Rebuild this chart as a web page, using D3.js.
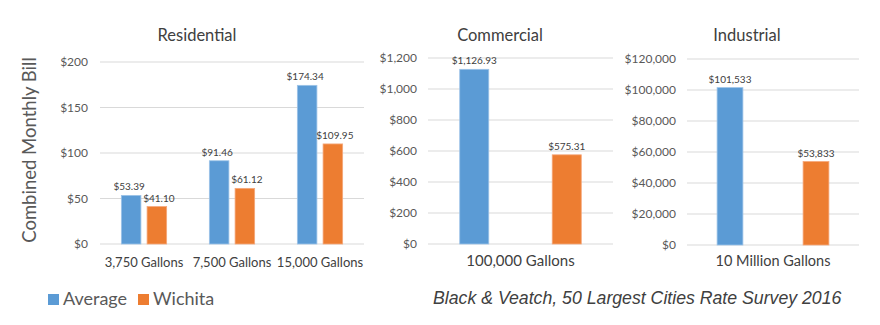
<!DOCTYPE html>
<html><head><meta charset="utf-8">
<script src="https://cdn.jsdelivr.net/npm/d3@7"></script>
<style>body{margin:0;background:#fff}svg{display:block}text{font-family:Lato,"Open Sans",sans-serif}</style>
</head><body><svg id="c" width="880" height="325"></svg>
<script>
const series = ["Average", "Wichita"];
const colors = ["#5B9BD5", "#ED7D31"];
const resCategories = ["3,750 Gallons", "7,500 Gallons", "15,000 Gallons"];
const resAverage = [53.39, 91.46, 174.34];
const resWichita = [41.10, 61.12, 109.95];
const resTicks = [0, 50, 100, 150, 200];
const comCategories = ["100,000 Gallons"];
const comAverage = [1126.93];
const comWichita = [575.31];
const comTicks = [0, 200, 400, 600, 800, 1000, 1200];
const indCategories = ["10 Million Gallons"];
const indAverage = [101533];
const indWichita = [53833];
const indTicks = [0, 20000, 40000, 60000, 80000, 100000, 120000];

const svg = d3.select("#c");

function panel(o) {
  const g = svg.append("g");
  const x0 = d3.scaleBand().domain(o.cats).range([o.x0, o.x1]);
  const x1 = d3.scaleBand().domain(series).range([0, x0.bandwidth()])
    .paddingInner(o.pi).paddingOuter(o.po);
  const y = d3.scaleLinear().domain([0, d3.max(o.ticks)]).range([o.yb, o.yt]);
  g.append("g").selectAll("line").data(o.ticks).join("line")
    .attr("x1", o.x0).attr("x2", o.x1)
    .attr("y1", d => y(d)).attr("y2", d => y(d))
    .attr("stroke", "#d9d9d9").attr("stroke-width", 1);
  const ax = g.append("g").attr("transform", `translate(${o.labX},0)`)
    .call(d3.axisLeft(y).tickValues(o.ticks).tickSize(0).tickPadding(0).tickFormat(o.fmt));
  ax.select(".domain").remove();
  ax.selectAll("text").attr("fill", "#595959").style("font-size", "12px").style("font-family", "Lato,'Open Sans',sans-serif");
  const rows = o.cats.map((c, i) => ({c, vals: [o.avg[i], o.wic[i]]}));
  const grp = g.append("g").selectAll("g").data(rows).join("g")
    .attr("transform", d => `translate(${x0(d.c)},0)`);
  grp.selectAll("rect").data(d => d.vals.map((v, k) => ({s: series[k], v, k})))
    .join("rect")
    .attr("x", d => x1(d.s)).attr("width", x1.bandwidth())
    .attr("y", d => y(d.v)).attr("height", d => y(0) - y(d.v))
    .attr("fill", d => colors[d.k])
    .attr("stroke", d => d.k ? "#f5a77a" : "#9cc3e8").attr("stroke-width", 0.8);
  grp.selectAll("text.v").data(d => d.vals.map((v, k) => ({s: series[k], v, k})))
    .join("text").attr("class", "v")
    .attr("x", d => x1(d.s) + x1.bandwidth() / 2 + (o.lblShift ? o.lblShift[d.k] : 0))
    .attr("y", d => y(d.v) - 5)
    .attr("text-anchor", "middle").attr("fill", "#404040")
    .style("font-size", "10px").text(d => o.vfmt(d.v));
  g.append("g").selectAll("text").data(o.cats).join("text")
    .attr("x", d => x0(d) + x0.bandwidth() / 2).attr("y", o.catY)
    .attr("text-anchor", "middle").attr("fill", "#404040")
    .style("font-size", o.catSize + "px").text(d => d);
  g.append("text").attr("x", o.titleX).attr("y", 41).attr("text-anchor", "middle")
    .attr("fill", "#404040").style("font-size", "16.5px").text(o.title);
}

const f2 = d3.format("$,.2f");
panel({title: "Residential", titleX: 197, cats: resCategories, avg: resAverage, wic: resWichita,
  ticks: resTicks, x0: 100, x1: 364, yt: 62, yb: 244, labX: 88, pi: 0.24, po: 0.83,
  fmt: d3.format("$,.0f"), vfmt: f2, catY: 267, catSize: 13, lblShift: [-2, 2]});
panel({title: "Commercial", titleX: 500, cats: comCategories, avg: comAverage, wic: comWichita,
  ticks: comTicks, x0: 428, x1: 613, yt: 58, yb: 244, labX: 417, pi: 0.686, po: 0.343,
  fmt: d3.format("$,.0f"), vfmt: f2, catY: 266, catSize: 15});
panel({title: "Industrial", titleX: 747, cats: indCategories, avg: indAverage, wic: indWichita,
  ticks: indTicks, x0: 687, x1: 859, yt: 59, yb: 245, labX: 676, pi: 0.70, po: 0.35,
  fmt: d3.format("$,.0f"), vfmt: d3.format("$,.0f"), catY: 266, catSize: 14.5});

svg.append("text").attr("transform", "translate(36,150) rotate(-90)")
  .attr("text-anchor", "middle").attr("fill", "#595959").style("font-size", "18.5px")
  .text("Combined Monthly Bill");

const leg = svg.append("g");
const legX = [48, 138];
series.forEach((s, i) => {
  leg.append("rect").attr("x", legX[i]).attr("y", 294).attr("width", 11).attr("height", 11).attr("fill", colors[i]);
  leg.append("text").attr("x", legX[i] + 15).attr("y", 305).attr("fill", "#595959")
    .style("font-size", "18px").text(s);
});

svg.append("text").attr("x", 433).attr("y", 304).attr("fill", "#404040")
  .style("font-size", "17.7px").style("font-style", "italic")
  .style("font-family", "'Liberation Sans',Arial,sans-serif")
  .text("Black & Veatch, 50 Largest Cities Rate Survey 2016");
</script></body></html>
